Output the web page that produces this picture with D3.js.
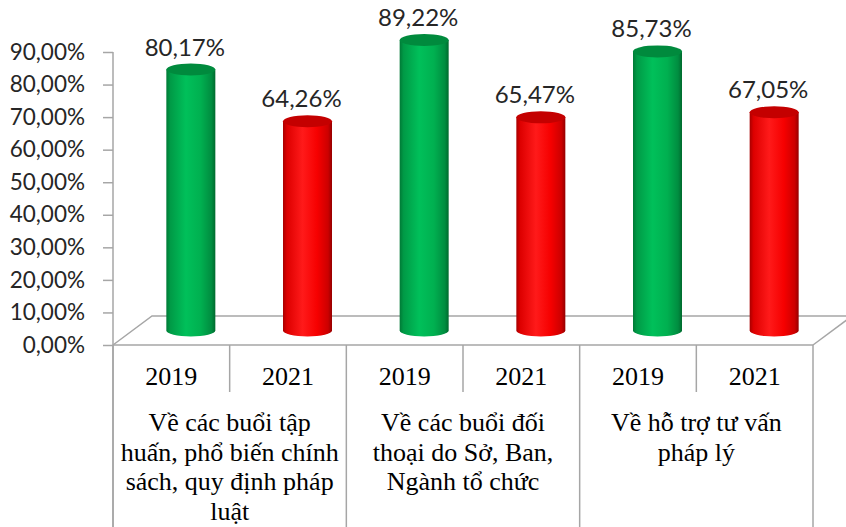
<!DOCTYPE html>
<html>
<head>
<meta charset="utf-8">
<script src="https://cdn.jsdelivr.net/npm/d3@7"></script>
<style>
  html, body { margin: 0; padding: 0; background: #fff; }
  svg { display: block; }
</style>
</head>
<body>
<svg width="846" height="527"></svg>
<script>
// data
const categoryLines = [
  ['Về các buổi tập', 'huấn, phổ biến chính', 'sách, quy định pháp', 'luật'],
  ['Về các buổi đối', 'thoại do Sở, Ban,', 'Ngành tổ chức'],
  ['Về hỗ trợ tư vấn', 'pháp lý'],
];
const years = ['2019', '2021'];
const values2019 = [0.8017, 0.8922, 0.8573];
const values2021 = [0.6426, 0.6547, 0.6705];
const yTicks = [0, 0.1, 0.2, 0.3, 0.4, 0.5, 0.6, 0.7, 0.8, 0.9];

const svg = d3.select('svg');
const width = +svg.attr('width');
const height = +svg.attr('height');

const left = 113, right = 813, floorY = 345, topY = 52;
const depthX = 39, depthY = 29;     // 3d depth of the floor
const barR = 24.5, ellR = 6;
const grey = '#a6a6a6';

const vi = d3.formatLocale({decimal: ',', thousands: '.', grouping: [3], currency: ['', '']});
const fmt = vi.format('.2%');

const y = d3.scaleLinear().domain([0, 0.9]).range([floorY, topY]);
const x0 = d3.scaleBand().domain(d3.range(categoryLines.length)).range([left, right]);
const x1 = d3.scaleBand().domain(years).range([0, x0.bandwidth()]);

const bars = [];
categoryLines.forEach((c, i) => {
  bars.push({cat: i, year: years[0], value: values2019[i]});
  bars.push({cat: i, year: years[1], value: values2021[i]});
});

// gradients for the cylinders
const defs = svg.append('defs');
const grads = {
  green: [['0', '#007a36'], ['0.08', '#009a46'], ['0.4', '#00c05a'], ['0.7', '#00b050'], ['0.92', '#008d40'], ['1', '#006a2e']],
  red: [['0', '#a80000'], ['0.08', '#dd0000'], ['0.4', '#ff1a1a'], ['0.7', '#f60000'], ['0.92', '#cc0000'], ['1', '#950000']],
};
Object.entries(grads).forEach(([name, stops]) => {
  const g = defs.append('linearGradient').attr('id', 'g-' + name)
    .attr('x1', 0).attr('x2', 1).attr('y1', 0).attr('y2', 0);
  g.selectAll('stop').data(stops).enter().append('stop')
    .attr('offset', d => d[0]).attr('stop-color', d => d[1]);
});
const topColor = {green: '#008a3d', red: '#c40000'};

// floor
const floor = svg.append('g')
  .attr('fill', 'none').attr('stroke', grey).attr('stroke-width', 1.5);
floor.append('path')
  .attr('d', `M${left},${floorY} L${left + depthX},${floorY - depthY} L${width + 10},${floorY - depthY}`);
floor.append('path')
  .attr('d', `M${right},${floorY} L${right + depthX},${floorY - depthY}`);

// y axis
const yAxis = svg.append('g')
  .attr('transform', `translate(${left},0)`)
  .call(d3.axisLeft(y).tickValues(yTicks).tickFormat(fmt).tickSize(10).tickPadding(18));
yAxis.select('.domain').attr('stroke', grey).attr('stroke-width', 1.5)
  .attr('d', `M0,${topY}V${height}`);
yAxis.selectAll('.tick line').attr('stroke', grey).attr('stroke-width', 1.5);
yAxis.selectAll('.tick text')
  .attr('fill', '#262626')
  .style('font-family', 'Lato, sans-serif')
  .style('font-size', '22.5px');

// table under the chart
const table = svg.append('g')
  .attr('stroke', grey).attr('stroke-width', 1.5);
table.append('line')
  .attr('x1', left).attr('x2', right).attr('y1', floorY).attr('y2', floorY);
table.selectAll('line.cat')
  .data(d3.range(categoryLines.length + 1))
  .enter().append('line').attr('class', 'cat')
  .attr('x1', d => left + d * x0.bandwidth()).attr('x2', d => left + d * x0.bandwidth())
  .attr('y1', floorY).attr('y2', height);
table.selectAll('line.sub')
  .data(d3.range(categoryLines.length))
  .enter().append('line').attr('class', 'sub')
  .attr('x1', d => x0(d) + x1(years[1])).attr('x2', d => x0(d) + x1(years[1]))
  .attr('y1', floorY).attr('y2', 392);

const serif = '"Liberation Serif", "Times New Roman", serif';
svg.append('g').selectAll('text')
  .data(bars)
  .enter().append('text')
  .attr('x', d => x0(d.cat) + x1(d.year) + x1.bandwidth() / 2)
  .attr('y', 385)
  .attr('text-anchor', 'middle')
  .style('font-family', serif).style('font-size', '26px')
  .text(d => d.year);

const catText = svg.append('g').selectAll('text')
  .data(categoryLines)
  .enter().append('text')
  .attr('text-anchor', 'middle')
  .style('font-family', serif).style('font-size', '26px');
catText.selectAll('tspan')
  .data((d, i) => d.map(line => ({line, i})))
  .enter().append('tspan')
  .attr('x', d => x0(d.i) + x0.bandwidth() / 2)
  .attr('y', (d, j) => 431 + j * 29.5)
  .text(d => d.line);

// cylinders
const barsG = svg.append('g');
const bar = barsG.selectAll('g.bar')
  .data(bars)
  .enter().append('g').attr('class', 'bar');

const cx = d => x0(d.cat) + x1(d.year) + x1.bandwidth() / 2 + depthX / 2;
const base = y(0) - depthY / 2;
const topOf = d => y(d.value) - depthY / 2;
const colorOf = d => d.year === years[0] ? 'green' : 'red';

bar.append('path')
  .attr('fill', d => `url(#g-${colorOf(d)})`)
  .attr('d', d => `M${cx(d) - barR},${topOf(d)} L${cx(d) - barR},${base} ` +
    `A${barR},${ellR} 0 0 0 ${cx(d) + barR},${base} L${cx(d) + barR},${topOf(d)} Z`);
bar.append('ellipse')
  .attr('cx', cx).attr('cy', topOf)
  .attr('rx', barR).attr('ry', ellR)
  .attr('fill', d => topColor[colorOf(d)]);

bar.append('text')
  .attr('x', d => cx(d) - 6)
  .attr('y', d => topOf(d) - 14)
  .attr('text-anchor', 'middle')
  .attr('fill', '#262626')
  .style('font-family', 'Lato, sans-serif')
  .style('font-size', '24px')
  .text(d => fmt(d.value));
</script>
</body>
</html>
